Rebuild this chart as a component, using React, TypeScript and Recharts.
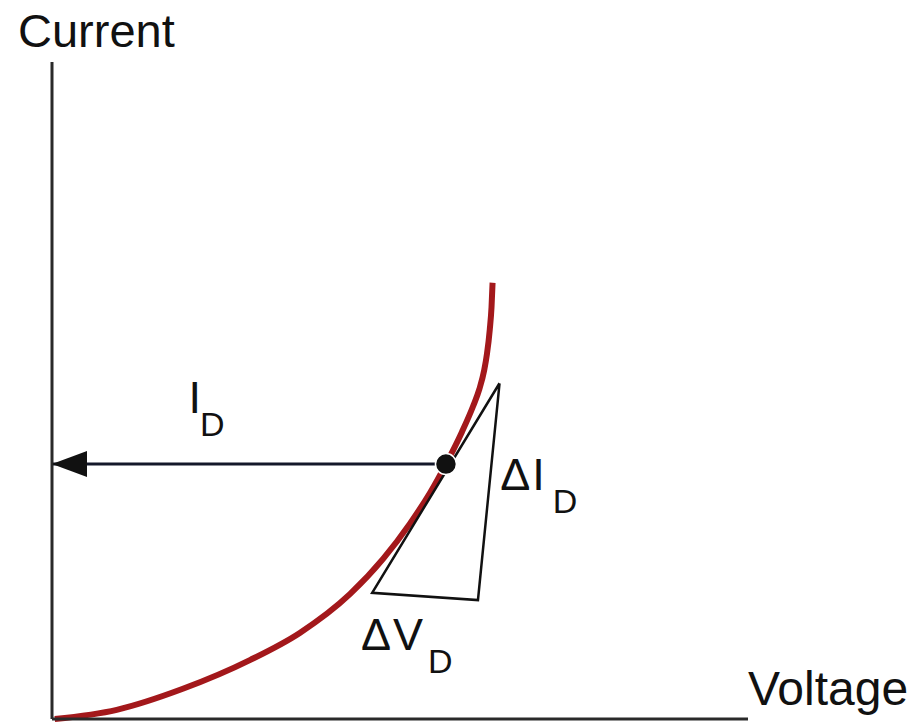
import React from 'react';
import {
  ComposedChart,
  Line,
  Scatter,
  XAxis,
  YAxis,
  ReferenceDot,
} from 'recharts';

// ─── Diode I–V curve with small-signal triangle ─────────────────
// Values are in arbitrary units, 0–100 on both axes.

const curvePoints = [
  { x: 0.4, y: 0 },
  { x: 9.3, y: 1.4 },
  { x: 18.8, y: 4.6 },
  { x: 28.5, y: 9.0 },
  { x: 35.6, y: 13.1 },
  { x: 42.8, y: 19.0 },
  { x: 47.6, y: 24.4 },
  { x: 51.4, y: 29.7 },
  { x: 54.3, y: 34.4 },
  { x: 56.6, y: 38.8 },
  { x: 58.9, y: 43.7 },
  { x: 60.5, y: 47.6 },
  { x: 61.4, y: 50.2 },
  { x: 62.1, y: 53.1 },
  { x: 62.5, y: 55.6 },
  { x: 62.9, y: 59.3 },
  { x: 63.15, y: 62.7 },
  { x: 63.3, y: 66.4 },
];

// operating point and the horizontal I_D arrow
const operatingPoint = [{ x: 56.6, y: 38.8 }];
const arrowLine = [
  { x: 0, y: 38.8 },
  { x: 56.6, y: 38.8 },
];
const arrowTip = [{ x: 0, y: 38.8 }];

// ΔV / ΔI triangle (closed)
const slopeTriangle = [
  { x: 64.3, y: 51.1 },
  { x: 46.0, y: 19.2 },
  { x: 61.2, y: 18.1 },
  { x: 64.3, y: 51.1 },
];

// annotation anchors (left end of text baseline)
const labels = [
  { x: 19.6, y: 46.6, main: 'I', sub: 'D', gap: -3 },
  { x: 64.4, y: 34.9, main: 'ΔI', sub: 'D', gap: 6 },
  { x: 44.4, y: 10.5, main: 'ΔV', sub: 'D', gap: 3 },
];

const FONT = '"Liberation Sans", Arial, sans-serif';
const RED = '#a3181b';
const INK = '#111';

const ArrowHead = (props: any) => {
  const { cx, cy } = props;
  return (
    <polygon
      points={`${cx},${cy} ${cx + 35},${cy - 13} ${cx + 35},${cy + 13}`}
      fill={INK}
    />
  );
};

const BigDot = (props: any) => {
  const { cx, cy } = props;
  return <circle cx={cx} cy={cy} r={10.5} fill={INK} stroke="#fff" strokeWidth={1.5} />;
};

const SubLabel = (main: string, sub: string, gap: number) => (props: any) => {
  const vb = props.viewBox || {};
  const x = vb.x + (vb.width || 0) / 2;
  const y = vb.y + (vb.height || 0) / 2;
  return (
    <text x={x} y={y} fontFamily={FONT} fill={INK} fontSize={45} letterSpacing={2}>
      {main}
      <tspan fontSize={34} dy={23} dx={gap}>
        {sub}
      </tspan>
    </text>
  );
};

export default function App() {
  return (
    <div style={{ position: 'absolute', left: 0, top: 0, background: '#fff' }}>
      <ComposedChart
        width={915}
        height={724}
        margin={{ top: 62, right: 167, bottom: 4, left: 51 }}
      >
        <XAxis
          type="number"
          dataKey="x"
          domain={[0, 100]}
          height={1}
          tick={false}
          tickLine={false}
          axisLine={{ stroke: '#2a2a2a', strokeWidth: 3 }}
          label={{
            content: (p: any) => (
              <text
                x={p.viewBox.x + p.viewBox.width}
                y={p.viewBox.y - 14}
                fontFamily={FONT}
                fontSize={48}
                fill={INK}
              >
                Voltage
              </text>
            ),
          }}
        />
        <YAxis
          type="number"
          dataKey="y"
          domain={[0, 100]}
          width={1}
          tick={false}
          tickLine={false}
          axisLine={{ stroke: '#2a2a2a', strokeWidth: 3 }}
          label={{
            content: (p: any) => (
              <text
                x={p.viewBox.x + p.viewBox.width - 34}
                y={p.viewBox.y - 15}
                fontFamily={FONT}
                fontSize={47}
                fill={INK}
              >
                Current
              </text>
            ),
          }}
        />

        <Line
          data={curvePoints}
          dataKey="y"
          type="monotone"
          stroke={RED}
          strokeWidth={6}
          dot={false}
          isAnimationActive={false}
        />
        <Line
          data={slopeTriangle}
          dataKey="y"
          type="linear"
          stroke={INK}
          strokeWidth={2.5}
          strokeLinejoin="miter"
          dot={false}
          isAnimationActive={false}
        />
        <Line
          data={arrowLine}
          dataKey="y"
          type="linear"
          stroke="#14182a"
          strokeWidth={3}
          dot={false}
          isAnimationActive={false}
        />
        <Scatter data={arrowTip} shape={ArrowHead} isAnimationActive={false} />
        <Scatter data={operatingPoint} shape={BigDot} isAnimationActive={false} />

        {labels.map((l, i) => (
          <ReferenceDot
            key={i}
            x={l.x}
            y={l.y}
            r={0}
            fill="none"
            stroke="none"
            label={{ content: SubLabel(l.main, l.sub, l.gap) }}
          />
        ))}
      </ComposedChart>
    </div>
  );
}
